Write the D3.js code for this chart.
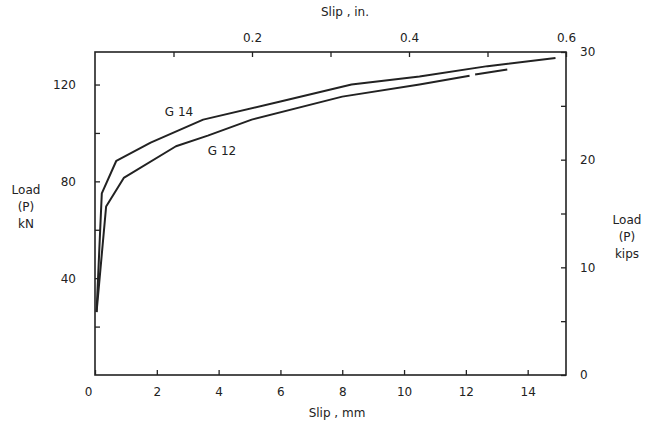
<!DOCTYPE html>
<html>
<head>
<meta charset="utf-8">
<script src="https://cdn.jsdelivr.net/npm/d3@7"></script>
<style>
  body { margin: 0; background: #fff; }
  text { font-family: "DejaVu Sans", sans-serif; fill: #222; }
</style>
</head>
<body>
<div id="chart"></div>
<script>
// Dados (slip em mm, carga em kN)
var slipG14 = [0.05, 0.22, 0.69, 1.8, 3.5, 6.0, 8.3, 10.5, 12.7, 14.9];
var loadG14 = [26, 75, 88.5, 96, 105.5, 113, 120, 123.3, 127.6, 131];

// G12 tem uma falha no traço perto de 12 mm (null = quebra)
var slipG12 = [0.05, 0.36, 0.93, 2.62, 3.65, 5.07, 8.0, 10.5, 12.12, null, 12.3, 13.34];
var loadG12 = [26, 69.6, 81.4, 94.5, 98.9, 105.5, 115, 120, 123.6, null, 124.1, 126.2];

var mmTicks = [0, 2, 4, 6, 8, 10, 12, 14];
var inTicks = [0.1, 0.2, 0.3, 0.4, 0.5, 0.6];
var inLabels = [0.2, 0.4, 0.6];
var kNTicks = [20, 40, 60, 80, 100, 120];
var kNLabels = [40, 80, 120];
var kipTicks = [0, 5, 10, 15, 20, 25, 30];
var kipLabels = [0, 10, 20, 30];

var W = 650, H = 421;
// Limites da área do gráfico
var pLeft = 95, pRight = 566, pTop = 52, pBottom = 375;

var svg = d3.select("#chart").append("svg")
    .attr("width", W)
    .attr("height", H);

var x = d3.scaleLinear().domain([0, 15.24]).range([pLeft, pRight]);
var xIn = d3.scaleLinear().domain([0, 0.6]).range([pLeft, pRight]);
var y = d3.scaleLinear().domain([0, 30 * 4.448]).range([pBottom, pTop]);
var yKip = d3.scaleLinear().domain([0, 30]).range([pBottom, pTop]);

var ink = "#222";

// Moldura
svg.append("rect")
    .attr("x", pLeft).attr("y", pTop)
    .attr("width", pRight - pLeft).attr("height", pBottom - pTop)
    .attr("fill", "none").attr("stroke", ink).attr("stroke-width", 1.6);

// Eixo inferior (mm)
var gBottom = svg.append("g")
    .attr("transform", "translate(0," + pBottom + ")")
    .call(d3.axisBottom(x).tickValues(mmTicks).tickSizeInner(-5).tickSizeOuter(0)
      .tickPadding(12).tickFormat(d3.format("d")));
gBottom.select(".domain").remove();
gBottom.selectAll("text").style("font-size", "12px")
    .attr("dx", function (d) { return d === 0 ? -7 : 0; });

// Eixo superior (in.)
var gTop = svg.append("g")
    .attr("transform", "translate(0," + pTop + ")")
    .call(d3.axisTop(xIn).tickValues(inTicks).tickSizeInner(-5).tickSizeOuter(0)
      .tickPadding(10).tickFormat(function (d) {
        return inLabels.some(function (v) { return Math.abs(v - d) < 1e-9; }) ? d3.format(".1f")(d) : "";
      }));
gTop.select(".domain").remove();
gTop.selectAll("text").style("font-size", "12px");

// Eixo esquerdo (kN)
var gLeft = svg.append("g")
    .attr("transform", "translate(" + pLeft + ",0)")
    .call(d3.axisLeft(y).tickValues(kNTicks).tickSizeInner(-5).tickSizeOuter(0)
      .tickPadding(19).tickFormat(function (d) {
        return kNLabels.indexOf(d) >= 0 ? d : "";
      }));
gLeft.select(".domain").remove();
gLeft.selectAll("text").style("font-size", "12px");

// Eixo direito (kips)
var gRight = svg.append("g")
    .attr("transform", "translate(" + pRight + ",0)")
    .call(d3.axisRight(yKip).tickValues(kipTicks).tickSizeInner(-5).tickSizeOuter(0)
      .tickPadding(14).tickFormat(function (d) {
        return kipLabels.indexOf(d) >= 0 ? d : "";
      }));
gRight.select(".domain").remove();
gRight.selectAll("text").style("font-size", "12px");

svg.selectAll(".tick line").attr("stroke", ink).attr("stroke-width", 1.3);

// Curvas
var line = d3.line()
    .defined(function (d) { return d[0] !== null; })
    .x(function (d) { return x(d[0]); })
    .y(function (d) { return y(d[1]); });

var curves = [
  d3.zip(slipG14, loadG14),
  d3.zip(slipG12, loadG12)
];

svg.selectAll("path.curve")
    .data(curves)
    .enter().append("path")
    .attr("class", "curve")
    .attr("d", line)
    .attr("fill", "none")
    .attr("stroke", ink)
    .attr("stroke-width", 2)
    .attr("stroke-linejoin", "round");

// Rótulos das curvas
svg.append("text").attr("x", 179).attr("y", 116)
    .attr("text-anchor", "middle").style("font-size", "12px").text("G 14");
svg.append("text").attr("x", 222).attr("y", 155)
    .attr("text-anchor", "middle").style("font-size", "12px").text("G 12");

// Títulos dos eixos
svg.append("text").attr("x", 337).attr("y", 417)
    .attr("text-anchor", "middle").style("font-size", "12px").text("Slip , mm");
svg.append("text").attr("x", 345).attr("y", 16)
    .attr("text-anchor", "middle").style("font-size", "12px").text("Slip , in.");

var leftTitle = ["Load", "(P)", "kN"];
svg.selectAll("text.ltitle")
    .data(leftTitle)
    .enter().append("text")
    .attr("class", "ltitle")
    .attr("x", 26)
    .attr("y", function (d, i) { return 194 + i * 17; })
    .attr("text-anchor", "middle")
    .style("font-size", "12px")
    .text(function (d) { return d; });

var rightTitle = ["Load", "(P)", "kips"];
svg.selectAll("text.rtitle")
    .data(rightTitle)
    .enter().append("text")
    .attr("class", "rtitle")
    .attr("x", 627)
    .attr("y", function (d, i) { return 224 + i * 17; })
    .attr("text-anchor", "middle")
    .style("font-size", "12px")
    .text(function (d) { return d; });
</script>
</body>
</html>
